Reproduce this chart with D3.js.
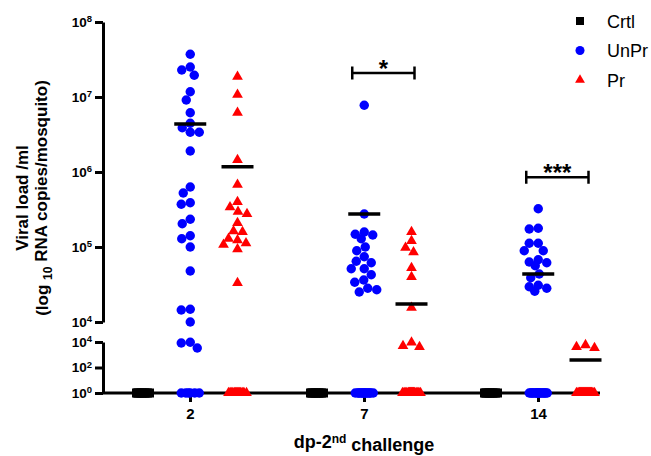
<!DOCTYPE html>
<meta charset="utf-8">
<script src="https://d3js.org/d3.v7.min.js"></script>
<style>
  body { margin: 0; background: #fff; }
  text { font-family: "Liberation Sans", Arial, sans-serif; }
</style>
<div id="my_dataviz"></div>
<script>

// categories
var days = ["2", "7", "14"];
var groups = ["Crtl", "UnPr", "Pr"];
var groupColor = ["#000000", "#0000ff", "#ff0000"];

// log10 RNA copies of the positive mosquitoes
var unprDay2 = [7.57, 7.40, 7.36, 7.29, 7.07, 6.96, 6.79, 6.65, 6.59, 6.53, 6.53, 6.28, 5.80, 5.72,
                5.59, 5.57, 5.37, 5.31, 5.15, 5.11, 5.00, 4.68, 4.17, 4.16, 4.00, 3.98, 3.92, 3.53];
var unprDay7 = [6.89, 5.44, 5.20, 5.17, 5.16, 5.11, 5.00, 4.95, 4.87, 4.81, 4.79, 4.71, 4.71, 4.63,
                4.56, 4.53, 4.45, 4.43, 4.40];
var unprDay14 = [5.51, 5.25, 5.24, 5.05, 5.05, 4.95, 4.95, 4.83, 4.80, 4.79, 4.75, 4.64, 4.59, 4.49,
                 4.47, 4.45, 4.41];
var prDay2 = [7.27, 7.03, 6.79, 6.16, 5.83, 5.60, 5.53, 5.47, 5.44, 5.32, 5.21, 5.20, 5.11, 5.09,
              5.05, 5.03, 4.97, 4.52];
var prDay7 = [5.20, 5.08, 4.99, 4.93, 4.72, 4.60, 4.19, 3.97, 3.69, 3.61];
var prDay14 = [3.76, 3.61, 3.53];

// mosquitoes with no RNA detected (drawn on 10^0)
var crtlZeros = [10, 10, 10];
var unprZeros = [6, 15, 18];
var prZeros = [16, 23, 31];

// mean lines (log10)
var unprMean = [6.64, 5.44, 4.64];
var prMean = [6.07, 4.24, 2.59];

// significance brackets
var sigDays = ["7", "14"];
var sigText = ["*", "***"];
var sigLog = [7.32, 5.93];

// axis ticks (exponents)
var topTicks = [4, 5, 6, 7, 8];
var bottomTicks = [0, 2, 4];

var margin = {top: 22, left: 103},
    width = 497;

var svg = d3.select("#my_dataviz")
  .append("svg")
    .attr("width", 651)
    .attr("height", 456)
    .style("background", "#fff")
  .append("g")
    .attr("transform", "translate(" + margin.left + "," + margin.top + ")");

// x: day, then group inside the day
var x = d3.scalePoint().domain(days).range([87, 435]);
var xSub = d3.scalePoint().domain(groups).range([-47, 47.5]);

// y: broken log axis, two pieces
var yTop = d3.scaleLog().domain([1e4, 1e8]).range([300, 0]);
var yBot = d3.scaleLog().domain([1, 1e4]).range([371, 320]);
function yPos(L) {
  return L >= 4 ? yTop(Math.pow(10, L)) : yBot(Math.pow(10, Math.max(L, 0)));
}

function powLabel(sel, base) {
  sel.each(function(d) {
    var e = Math.round(Math.log10(d));
    var t = d3.select(this).text(base);
    t.append("tspan").attr("dy", "-0.5em").attr("font-size", "9.5px").text(e);
  });
}

// y axes
[[yTop, topTicks], [yBot, bottomTicks]].forEach(function(a) {
  var g = svg.append("g")
    .call(d3.axisLeft(a[0])
      .tickValues(a[1].map(function(e) { return Math.pow(10, e); }))
      .tickSize(8).tickSizeOuter(0).tickPadding(3));
  g.selectAll("path, line").attr("stroke", "#000").attr("stroke-width", 3);
  g.selectAll("text")
    .attr("font-size", "13.5px").attr("font-weight", "bold").attr("fill", "#000")
    .attr("font-family", "'Liberation Sans', Arial, sans-serif")
    .call(powLabel, "10");
});

// x axis
svg.append("line")
  .attr("x1", 0).attr("x2", width)
  .attr("y1", yBot(1)).attr("y2", yBot(1))
  .attr("stroke", "#000").attr("stroke-width", 3);

var gx = svg.append("g")
  .attr("transform", "translate(0," + yBot(1) + ")")
  .call(d3.axisBottom(x).tickSize(9).tickSizeOuter(0).tickPadding(6));
gx.select(".domain").remove();
gx.selectAll("line").attr("stroke", "#000").attr("stroke-width", 3);
gx.selectAll("text")
  .attr("font-size", "15px").attr("font-weight", "bold").attr("fill", "#000")
  .attr("font-family", "'Liberation Sans', Arial, sans-serif");

// simple swarm: smallest horizontal offset without overlap, capped
function swarm(ys, minDist, maxOff) {
  var placed = [];
  return ys.map(function(y) {
    var best = 0, bestScore = -1;
    for (var k = 0; k <= maxOff + 0.001; k += 0.5) {
      var cands = k === 0 ? [0] : [-k, k];
      for (var i = 0; i < cands.length; i++) {
        var c = cands[i];
        var dmin = placed.length ? d3.min(placed, function(p) { return Math.hypot(p[0] - c, p[1] - y); }) : Infinity;
        if (dmin >= minDist) { placed.push([c, y]); return c; }
        if (dmin > bestScore + 0.01) { bestScore = dmin; best = c; }
      }
    }
    placed.push([best, y]);
    return best;
  });
}

var symbols = [d3.symbolSquare, d3.symbolCircle, d3.symbolTriangle];
var symSize = [81, 70, 50];
var zeroSpread = [6.5, 9, 9];

var positives = [[[], [], []], [unprDay2, unprDay7, unprDay14], [prDay2, prDay7, prDay14]];
var zeros = [crtlZeros, unprZeros, prZeros];

var points = [];
days.forEach(function(day, di) {
  groups.forEach(function(grp, gi) {
    var vals = positives[gi][di].slice().sort(d3.descending);
    var ys = vals.map(yPos);
    var offs = swarm(ys, 9, 14);
    ys.forEach(function(y, i) {
      points.push({x: x(day) + xSub(grp) + offs[i], y: y, g: gi});
    });
    var zy = d3.range(zeros[gi][di]).map(function() { return yPos(0); });
    var zoffs = swarm(zy, 9, zeroSpread[gi]);
    zy.forEach(function(y, i) {
      points.push({x: x(day) + xSub(grp) + zoffs[i], y: y, g: gi});
    });
  });
});

svg.append("g")
  .selectAll("path")
  .data(points)
  .enter()
  .append("path")
    .attr("transform", function(d) { return "translate(" + d.x + "," + d.y + ")"; })
    .attr("d", function(d) { return d3.symbol().type(symbols[d.g]).size(symSize[d.g])(); })
    .attr("fill", function(d) { return groupColor[d.g]; });

// mean lines
var means = [];
days.forEach(function(day, di) {
  means.push({cx: x(day) + xSub("UnPr"), L: unprMean[di]});
  means.push({cx: x(day) + xSub("Pr"), L: prMean[di]});
});
svg.append("g")
  .selectAll("line")
  .data(means)
  .enter()
  .append("line")
    .attr("x1", function(d) { return d.cx - 16; })
    .attr("x2", function(d) { return d.cx + 16; })
    .attr("y1", function(d) { return yPos(d.L); })
    .attr("y2", function(d) { return yPos(d.L); })
    .attr("stroke", "#000").attr("stroke-width", 3.5);

// significance brackets
sigDays.forEach(function(day, i) {
  var x1 = x(day) + xSub("UnPr") - 12,
      x2 = x(day) + xSub("Pr") + 3,
      y = yPos(sigLog[i]);
  var g = svg.append("g").attr("stroke", "#000").attr("stroke-width", 2.5);
  g.append("line").attr("x1", x1).attr("x2", x2).attr("y1", y).attr("y2", y);
  g.append("line").attr("x1", x1).attr("x2", x1).attr("y1", y - 6.5).attr("y2", y + 6.5);
  g.append("line").attr("x1", x2).attr("x2", x2).attr("y1", y - 6.5).attr("y2", y + 6.5);
  svg.append("text")
    .attr("x", (x1 + x2) / 2).attr("y", y + 4)
    .attr("text-anchor", "middle")
    .attr("font-size", "24px").attr("font-weight", "bold")
    .text(sigText[i]);
});

// axis titles
var xt = svg.append("text")
  .attr("x", x("7")).attr("y", 426)
  .attr("text-anchor", "middle")
  .attr("font-size", "18px").attr("font-weight", "bold")
  .text("dp-2");
xt.append("tspan").attr("dy", "-0.45em").attr("font-size", "12px").text("nd");
xt.append("tspan").attr("dy", "0.45em").text(" challenge");

var yt = svg.append("g").attr("transform", "rotate(-90)");
yt.append("text")
  .attr("x", -176).attr("y", 28 - margin.left)
  .attr("text-anchor", "middle")
  .attr("font-size", "17px").attr("font-weight", "bold")
  .text("Viral load /ml");
var yt2 = yt.append("text")
  .attr("x", -176).attr("y", 48 - margin.left)
  .attr("text-anchor", "middle")
  .attr("font-size", "17px").attr("font-weight", "bold")
  .text("(log ");
yt2.append("tspan").attr("dy", "0.3em").attr("font-size", "12px").text("10");
yt2.append("tspan").attr("dy", "-0.3em").text(" RNA copies/mosquito)");

// legend
var legend = svg.append("g")
  .selectAll("g")
  .data(groups)
  .enter()
  .append("g")
    .attr("transform", function(d, i) { return "translate(477," + (-1 + i * 29.5) + ")"; });
legend.append("path")
  .attr("d", function(d, i) { return d3.symbol().type(symbols[i]).size([64, 64, 42][i])(); })
  .attr("fill", function(d, i) { return groupColor[i]; });
legend.append("text")
  .attr("x", 27).attr("y", 6.5)
  .attr("font-size", "18px")
  .text(function(d) { return d; });

</script>
